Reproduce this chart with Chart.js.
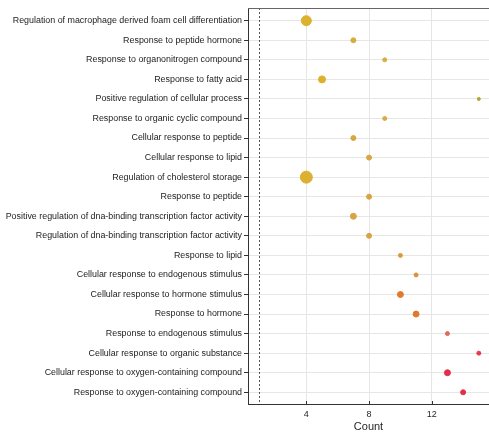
<!DOCTYPE html>
<html>
<head>
<meta charset="utf-8">
<script src="https://cdn.jsdelivr.net/npm/chart.js@4/dist/chart.umd.min.js"></script>
<style>
html,body{margin:0;padding:0;background:#fff;}
#wrap{width:489px;height:434px;position:relative;}
</style>
</head>
<body>
<div id="wrap"><canvas id="c" width="489" height="434"></canvas></div>
<script>
// ---- data ----
const categories = [
  "Regulation of macrophage derived foam cell differentiation",
  "Response to peptide hormone",
  "Response to organonitrogen compound",
  "Response to fatty acid",
  "Positive regulation of cellular process",
  "Response to organic cyclic compound",
  "Cellular response to peptide",
  "Cellular response to lipid",
  "Regulation of cholesterol storage",
  "Response to peptide",
  "Positive regulation of dna-binding transcription factor activity",
  "Regulation of dna-binding transcription factor activity",
  "Response to lipid",
  "Cellular response to endogenous stimulus",
  "Cellular response to hormone stimulus",
  "Response to hormone",
  "Response to endogenous stimulus",
  "Cellular response to organic substance",
  "Cellular response to oxygen-containing compound",
  "Response to oxygen-containing compound"
];
const counts = [4, 7, 9, 5, 15, 9, 7, 8, 4, 8, 7, 8, 10, 11, 10, 11, 13, 15, 13, 14];
const xTickValues = [4, 8, 12];
const thresholdX = 1;
const xAxisTitle = "Count";

// ---- styles ----
const pointRadii = [5, 2.5, 2, 3.5, 1.5, 2, 2.5, 2.5, 6, 2.5, 3, 2.5, 2, 2, 3, 3, 2, 2, 3, 2.5];
const fillColors = ["#dcb22c","#d6ae3e","#d4ae40","#dcb22c","#b4a232","#d4ad40","#d8a840","#d8a840",
  "#dcb030","#d9a440","#d6a444","#d9a440","#dc9a3c","#dc903c","#e07a30","#e07830",
  "#e06a58","#e23c4c","#e0304c","#e03048"];
const borderColors = fillColors.map(c => c);

const pts = counts.map((v, i) => ({x: v, y: i}));

const extras = {
  id: 'extras',
  beforeDatasetsDraw(chart) {
    const {ctx, chartArea: a, scales: {x}} = chart;
    ctx.save();
    const px = x.getPixelForValue(thresholdX);
    ctx.strokeStyle = '#555';
    ctx.lineWidth = 1;
    ctx.setLineDash([2, 2]);
    ctx.beginPath();
    ctx.moveTo(Math.round(px) + 0.5, a.top);
    ctx.lineTo(Math.round(px) + 0.5, a.bottom);
    ctx.stroke();
    ctx.setLineDash([]);
    ctx.strokeStyle = '#666';
    ctx.beginPath();
    ctx.moveTo(a.left, a.top + 0.5);
    ctx.lineTo(a.right, a.top + 0.5);
    ctx.stroke();
    ctx.strokeStyle = '#333';
    xTickValues.forEach(v => {
      const tx = Math.round(x.getPixelForValue(v)) + 0.5;
      ctx.beginPath();
      ctx.moveTo(tx, a.bottom);
      ctx.lineTo(tx, a.bottom - 3);
      ctx.stroke();
    });
    ctx.restore();
  }
};

new Chart(document.getElementById('c'), {
  type: 'scatter',
  data: {
    datasets: [{
      data: pts,
      pointRadius: pointRadii,
      pointHoverRadius: pointRadii,
      backgroundColor: fillColors,
      borderColor: borderColors,
      borderWidth: 1
    }]
  },
  options: {
    responsive: false,
    animation: false,
    events: [],
    layout: {autoPadding: false, padding: {top: 8, right: 0, left: 0, bottom: 0}},
    plugins: {legend: {display: false}, tooltip: {enabled: false}},
    scales: {
      x: {
        type: 'linear',
        min: 0.28,
        max: 15.65,
        afterBuildTicks: s => { s.ticks = xTickValues.map(v => ({value: v})); },
        afterFit: s => { s.height = 30; },
        grid: {color: '#e6e6e6', drawTicks: false},
        border: {color: '#333', width: 1},
        ticks: {color: '#262626', padding: 5, font: {family: 'Liberation Sans, Arial', size: 9}},
        title: {display: true, text: xAxisTitle, color: '#262626', padding: 0,
          font: {family: 'Liberation Sans, Arial', size: 11}}
      },
      y: {
        type: 'linear',
        reverse: true,
        min: -0.65,
        max: 19.6,
        afterBuildTicks: s => { s.ticks = categories.map((_, i) => ({value: i})); },
        afterFit: s => { s.width = 248; },
        grid: {color: '#e6e6e6', tickColor: '#333', tickLength: 4},
        border: {color: '#333', width: 1},
        ticks: {
          autoSkip: false,
          color: '#222',
          padding: 2,
          font: {family: 'Liberation Sans, Arial', size: 8.9},
          callback: v => categories[v]
        }
      }
    }
  },
  plugins: [extras]
});
</script>
</body>
</html>
